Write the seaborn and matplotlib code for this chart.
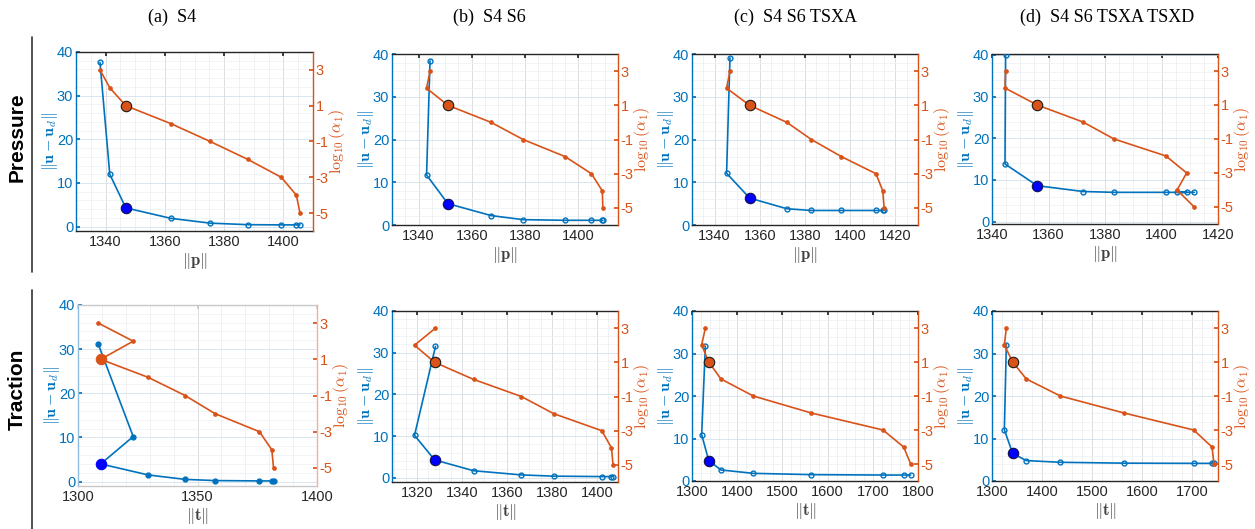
"""
L-curves of the regularised inverse problem: misfit ||u - u_d|| and log10(alpha)
against the norm of the reconstructed load, for pressure and traction cases.
"""

import matplotlib
matplotlib.use("Agg")
import matplotlib.pyplot as plt
import matplotlib.ticker as mtick
import seaborn as sns

# ── Data ───────────────────────────────────────────────────────────────────────
LOG_ALPHA = [3, 2, 1, 0, -1, -2, -3, -4, -5]
PICK = 2  # chosen alpha (log10 = 1)

COL_TITLES = ["(a)  S4", "(b)  S4 S6", "(c)  S4 S6 TSXA", "(d)  S4 S6 TSXA TSXD"]
ROW_TITLES = ["Pressure", "Traction"]

# pressure: ||p||
P_S4_NORM = [1338.1, 1341.4, 1346.8, 1362.0, 1375.3, 1388.0, 1399.3, 1404.4, 1405.6]
P_S4_ERR = [37.6, 12.0, 4.3, 1.9, 0.8, 0.45, 0.4, 0.4, 0.4]
P_S4S6_NORM = [1344.3, 1343.0, 1351.0, 1367.3, 1379.3, 1395.1, 1405.0, 1409.1, 1409.3]
P_S4S6_ERR = [38.4, 11.7, 5.0, 2.2, 1.25, 1.1, 1.1, 1.1, 1.1]
P_TSXA_NORM = [1346.8, 1345.3, 1355.5, 1372.0, 1382.8, 1396.1, 1411.4, 1414.4, 1415.0]
P_TSXA_ERR = [39.1, 12.1, 6.3, 3.8, 3.4, 3.4, 3.4, 3.4, 3.4]
P_TSXD_NORM = [1344.8, 1344.6, 1356.0, 1372.2, 1383.2, 1401.6, 1408.9, 1405.5, 1411.6]
P_TSXD_ERR = [40.0, 13.8, 8.6, 7.2, 7.0, 7.0, 7.0, 7.0, 7.0]

# traction: ||t||
T_S4_NORM = [1308.5, 1323.1, 1309.5, 1329.4, 1344.8, 1357.3, 1375.9, 1381.1, 1381.8]
T_S4_ERR = [31.1, 10.2, 4.0, 1.5, 0.5, 0.23, 0.15, 0.15, 0.15]
T_S4S6_NORM = [1328.3, 1319.0, 1327.9, 1345.2, 1366.4, 1380.7, 1402.1, 1406.4, 1407.1]
T_S4S6_ERR = [31.5, 10.2, 4.3, 1.7, 0.7, 0.4, 0.3, 0.3, 0.3]
T_TSXA_NORM = [1329.5, 1321.4, 1337.0, 1364.0, 1435.7, 1564.0, 1722.6, 1768.3, 1783.8]
T_TSXA_ERR = [31.7, 10.9, 4.8, 2.6, 1.8, 1.5, 1.4, 1.4, 1.4]
T_TSXD_NORM = [1328.7, 1324.7, 1341.3, 1368.7, 1436.7, 1564.0, 1703.3, 1740.0, 1744.0]
T_TSXD_ERR = [32.1, 12.05, 6.5, 4.8, 4.4, 4.2, 4.15, 4.15, 4.15]

# ── Style ──────────────────────────────────────────────────────────────────────
BLUE = "#0072BD"
ORANGE = "#D95319"
DARK = "#262626"
W, H = 1255, 529

sns.set_theme(style="white")
plt.rcParams.update({
    "font.family": ["Liberation Sans", "DejaVu Sans"],
    "mathtext.fontset": "cm",
    "axes.unicode_minus": False,
    "xtick.direction": "in",
    "ytick.direction": "in",
})

NORM_P = r"$\Vert\mathbf{p}\Vert$"
NORM_T = r"$\Vert\mathbf{t}\Vert$"
ERR_LBL = r"$\Vert\mathbf{u}-\mathbf{u}_d\Vert$"
ALPHA_LBL = r"$\log_{10}(\alpha_1)$"

# (data x, data y, axes box in px [x0, y0, x1, y1], xlim, ylim, xticks, xlabel)
PANELS = [
    (P_S4_NORM, P_S4_ERR, (76, 52, 313, 231), (1330, 1410), (-1, 40), range(1340, 1401, 20), NORM_P),
    (P_S4S6_NORM, P_S4S6_ERR, (392, 54, 618, 225), (1330, 1415), (0, 40), range(1340, 1401, 20), NORM_P),
    (P_TSXA_NORM, P_TSXA_ERR, (692, 54, 918, 225), (1330, 1430), (0, 40), range(1340, 1421, 20), NORM_P),
    (P_TSXD_NORM, P_TSXD_ERR, (992, 54, 1218, 224), (1340, 1420), (-0.6, 40.2), range(1340, 1421, 20), NORM_P),
    (T_S4_NORM, T_S4_ERR, (78, 305, 317, 486), (1300, 1400), (-1, 40), range(1300, 1401, 50), NORM_T),
    (T_S4S6_NORM, T_S4S6_ERR, (392, 311, 618, 482), (1309, 1409.3), (-1, 40), range(1320, 1401, 20), NORM_T),
    (T_TSXA_NORM, T_TSXA_ERR, (692, 311, 918, 481), (1300, 1800), (0, 40), range(1300, 1801, 100), NORM_T),
    (T_TSXD_NORM, T_TSXD_ERR, (992, 311, 1218, 481), (1300, 1752), (0, 40), range(1300, 1701, 100), NORM_T),
]

fig = plt.figure(figsize=(W / 100, H / 100), dpi=100)


def px_axes(x0, y0, x1, y1):
    return fig.add_axes([x0 / W, 1 - y1 / H, (x1 - x0) / W, (y1 - y0) / H])


for i, (xs, err, box, xlim, ylim, xticks, xlabel) in enumerate(PANELS):
    faded = i == 4  # the first traction panel is a lighter, lower-contrast render
    ax = px_axes(*box)
    ax2 = ax.twinx()

    # misfit curve (left axis)
    sns.lineplot(x=xs, y=err, ax=ax, sort=False, estimator=None, color=BLUE,
                 lw=1.2, marker="o", ms=3.5, mec=BLUE, mew=1.0,
                 mfc=BLUE if faded else "none", zorder=3)
    ax.plot(xs[PICK], err[PICK], "o", ms=7.5, mfc="#0000FF",
            mec="#0000FF" if faded else "#10104a", mew=0.8, zorder=4)

    # regularisation parameter (right axis)
    sns.lineplot(x=xs, y=LOG_ALPHA, ax=ax2, sort=False, estimator=None, color=ORANGE,
                 lw=1.2, marker="o", ms=2.8, mec=ORANGE, mew=0.5, zorder=3)
    ax2.plot(xs[PICK], LOG_ALPHA[PICK], "o", ms=7.5, mfc=ORANGE,
             mec=ORANGE if faded else "#1a1a1a", mew=0.8, zorder=4)

    ax.set_xlim(*xlim)
    ax.set_ylim(*ylim)
    ax2.set_ylim(-6, 4)
    ax.set_xticks(list(xticks))
    ax.set_yticks([0, 10, 20, 30, 40])
    ax2.set_yticks([3, 1, -1, -3, -5])
    ax.xaxis.set_minor_locator(mtick.AutoMinorLocator())
    ax.yaxis.set_minor_locator(mtick.AutoMinorLocator())

    ax.grid(which="major", axis="x", color="#d8d8d8", lw=0.6)
    ax.grid(which="minor", axis="x", color="#ececec", lw=0.5)
    ax.grid(which="major", axis="y", color="#d3e1ee", lw=0.6)
    ax.grid(which="minor", axis="y", color="#e9f0f7", lw=0.5)
    ax.set_axisbelow(True)

    frame = "#c8c8c8" if faded else DARK
    ax.spines["left"].set_color("#8fbde0" if faded else BLUE)
    ax.spines["top"].set_color(frame)
    ax.spines["bottom"].set_color(frame)
    ax.spines["right"].set_visible(False)
    for s in ("left", "top", "bottom"):
        ax2.spines[s].set_visible(False)
    ax2.spines["right"].set_color("#eeb39a" if faded else ORANGE)
    for sp in list(ax.spines.values()) + [ax2.spines["right"]]:
        sp.set_linewidth(1.0)

    ax.tick_params(axis="x", which="major", length=3, color=frame,
                   labelcolor=DARK, labelsize=10.5, pad=3, top=True)
    ax.tick_params(axis="y", which="major", length=3, color=BLUE,
                   labelcolor=BLUE, labelsize=10.5, pad=2)
    ax.tick_params(which="minor", length=0)
    ax2.tick_params(axis="y", which="major", length=3, color=ORANGE,
                    labelcolor=ORANGE, labelsize=10.5, pad=2)

    ax.set_xlabel(xlabel, fontsize=12, color="#404040", labelpad=1)
    ax.set_ylabel(ERR_LBL, fontsize=11.5, color=BLUE, labelpad=-2)
    ax2.set_ylabel(ALPHA_LBL, fontsize=11.5, color=ORANGE, labelpad=-1)

# ── Column titles, row titles and separators ──────────────────────────────────
for cx, title in zip([172, 489, 795, 1107], COL_TITLES):
    fig.text(cx / W, 1 - 17 / H, title, ha="center", va="center",
             fontsize=13, family="Liberation Serif", color="black")

for cy, (y0, y1), label in zip([137, 389], [(37, 272), (290, 529)], ROW_TITLES):
    fig.text(17 / W, 1 - cy / H, label, ha="center", va="center", rotation=90,
             fontsize=15, fontweight="bold", color="black")
    fig.add_artist(plt.Line2D([32 / W, 32 / W], [1 - y0 / H, 1 - y1 / H],
                              color="#333333", lw=1.2, transform=fig.transFigure))

fig.savefig("out.png", dpi=100, facecolor="white")
